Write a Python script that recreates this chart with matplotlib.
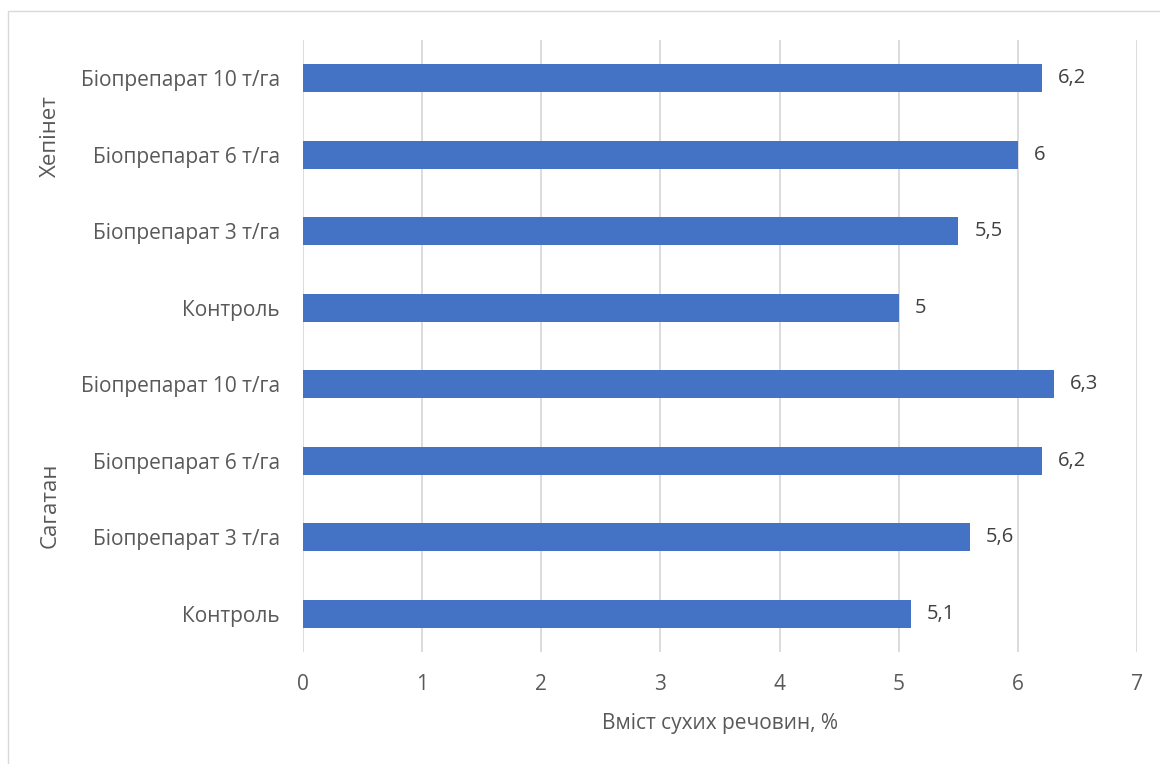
import matplotlib
matplotlib.use("Agg")
import matplotlib.pyplot as plt
from matplotlib.patches import Rectangle

plt.rcParams['font.family'] = ['Open Sans', 'DejaVu Sans']

# Categories listed bottom to top
treatments = ["Контроль", "Біопрепарат 3 т/га", "Біопрепарат 6 т/га", "Біопрепарат 10 т/га",
              "Контроль", "Біопрепарат 3 т/га", "Біопрепарат 6 т/га", "Біопрепарат 10 т/га"]
groups = ["Сагатан", "Хепінет"]
values = [5.1, 5.6, 6.2, 6.3, 5.0, 5.5, 6.0, 6.2]
x_ticks = [0, 1, 2, 3, 4, 5, 6, 7]
x_label = "Вміст сухих речовин, %"

bar_color = "#4472C4"
text_color = "#595959"
grid_color = "#D9D9D9"

fig = plt.figure(figsize=(11.6, 7.64), dpi=100)
fig.patches.append(Rectangle((8 / 1160, -0.05), 1.2, 1 - 11 / 764 + 0.05,
                             transform=fig.transFigure, fill=False,
                             edgecolor="#D9D9D9", linewidth=1.0))

ax = fig.add_axes([303 / 1160, 1 - 652 / 764, (1137 - 303) / 1160, (652 - 40) / 764])
pos = list(range(len(values)))
ax.barh(pos, values, height=0.36, color=bar_color, zorder=3)

for p, v in zip(pos, values):
    ax.annotate(f"{v:g}".replace(".", ","), xy=(v, p), xytext=(11.5, 0),
                textcoords="offset points", va="center", ha="left",
                fontsize=14.5, color="#404040")

ax.set_xlim(0, 7)
ax.set_ylim(-0.5, len(values) - 0.5)
ax.set_xticks(x_ticks)
ax.set_xticklabels([str(t) for t in x_ticks], fontsize=15, color=text_color)
ax.set_yticks(pos)
ax.set_yticklabels(treatments, fontsize=15, color=text_color)
ax.tick_params(axis="both", length=0)
ax.tick_params(axis="x", pad=16)
ax.tick_params(axis="y", pad=16.5)
ax.xaxis.grid(True, color=grid_color, linewidth=1.3, zorder=0)
for s in ax.spines.values():
    s.set_visible(False)

ax.set_xlabel(x_label, fontsize=15, color=text_color, labelpad=13)

# Group labels on the category axis
fig.text(50 / 1160, 1 - 136 / 764, groups[1], rotation=90, ha="center", va="center",
         fontsize=16, color=text_color)
fig.text(50 / 1160, 1 - 505 / 764, groups[0], rotation=90, ha="center", va="center",
         fontsize=16, color=text_color)

fig.savefig("out.png", dpi=100)
